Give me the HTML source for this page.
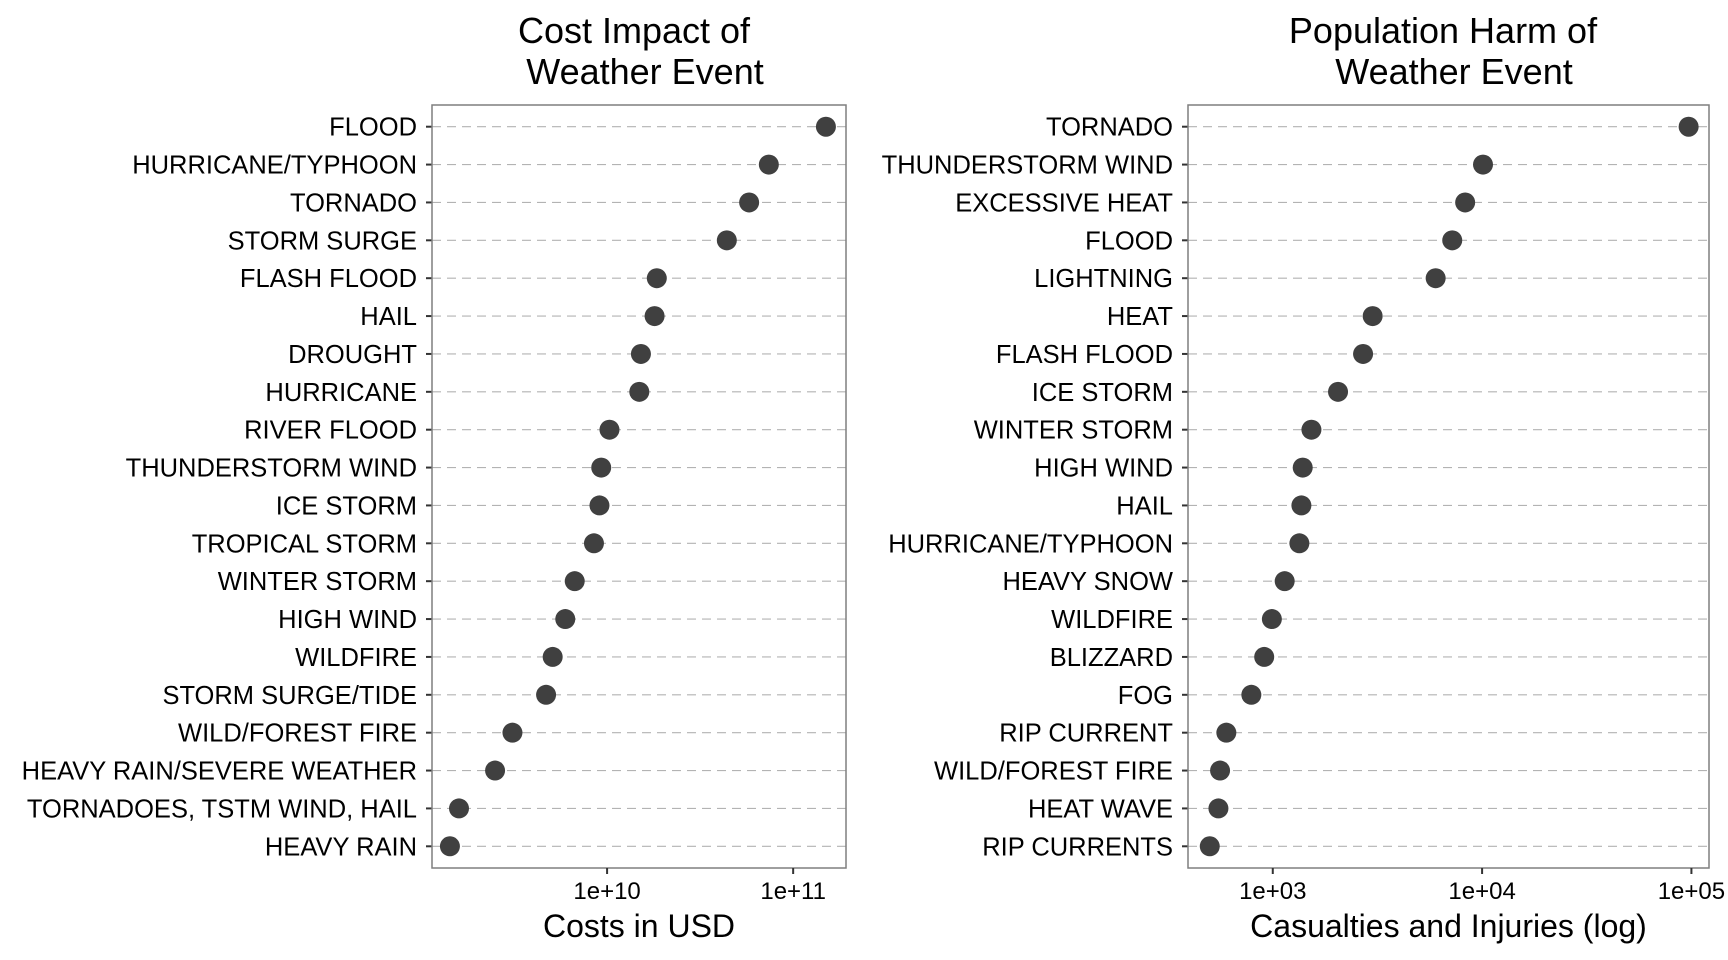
<!DOCTYPE html>
<html><head><meta charset="utf-8"><style>
html,body{margin:0;padding:0;background:#fff;}
svg{display:block;font-family:"Liberation Sans",Arial,sans-serif;}
</style></head><body>
<svg id="chart" width="1728" height="960" xmlns="http://www.w3.org/2000/svg"></svg>
<script>
const costCategories = ["FLOOD","HURRICANE/TYPHOON","TORNADO","STORM SURGE","FLASH FLOOD","HAIL","DROUGHT","HURRICANE","RIVER FLOOD","THUNDERSTORM WIND","ICE STORM","TROPICAL STORM","WINTER STORM","HIGH WIND","WILDFIRE","STORM SURGE/TIDE","WILD/FOREST FIRE","HEAVY RAIN/SEVERE WEATHER","TORNADOES, TSTM WIND, HAIL","HEAVY RAIN"];
const costValues = [1.5e11,7.4e10,5.8e10,4.4e10,1.85e10,1.8e10,1.52e10,1.49e10,1.03e10,9.3e9,9.1e9,8.5e9,6.7e9,5.96e9,5.1e9,4.7e9,3.1e9,2.5e9,1.6e9,1.43e9];
const costTicks = [1e10,1e11];
const costTickLabels = ["1e+10","1e+11"];
const harmCategories = ["TORNADO","THUNDERSTORM WIND","EXCESSIVE HEAT","FLOOD","LIGHTNING","HEAT","FLASH FLOOD","ICE STORM","WINTER STORM","HIGH WIND","HAIL","HURRICANE/TYPHOON","HEAVY SNOW","WILDFIRE","BLIZZARD","FOG","RIP CURRENT","WILD/FOREST FIRE","HEAT WAVE","RIP CURRENTS"];
const harmValues = [96979,10100,8300,7200,6000,3000,2700,2050,1530,1390,1370,1340,1140,990,910,790,600,560,550,500];
const harmTicks = [1e3,1e4,1e5];
const harmTickLabels = ["1e+03","1e+04","1e+05"];

const svg = document.getElementById('chart');
const NS = "http://www.w3.org/2000/svg";
function mk(tag, attrs, parent){const e=document.createElementNS(NS,tag);for(const k in attrs)e.setAttribute(k,attrs[k]);(parent||svg).appendChild(e);return e;}

function panel(cfg){
  const g = mk('g',{});
  
  
  const {x0,x1,y0,y1,lmin,lmax} = cfg;
  const xs = v => x0 + (Math.log10(v)-lmin)/(lmax-lmin)*(x1-x0);
  const n = cfg.cats.length;
  const yTop = 126.7, step = (846.3-126.7)/(n-1);
  const ys = i => yTop + i*step;
  cfg.title.forEach((t,k)=>{
    const tt = mk('text',{x:cfg.tx[k],y:43+k*41,'text-anchor':'middle','font-size':36,fill:'#000'},g);
    tt.textContent=t;
    
    
  });
  cfg.cats.forEach((c,i)=>{
    const y=ys(i);
    const gl = mk('line',{x1:x0,x2:x1,y1:y,y2:y,stroke:'#b3b3b3','stroke-width':1.2,'stroke-dasharray':'9,6'},g);
    
    
    mk('line',{x1:x0-6,x2:x0,y1:y,y2:y,stroke:'#333','stroke-width':2},g);
    const lt = mk('text',{x:x0-15,y:y+9,'text-anchor':'end','font-size':25.5,fill:'#000'},g);
    lt.textContent=c;
    
    
  });
  const b = mk('rect',{x:x0,y:y0,width:x1-x0,height:y1-y0,fill:'none',stroke:'#7f7f7f','stroke-width':1.5},g);
  
  
  cfg.ticks.forEach((t,i)=>{
    const x=xs(t);
    mk('line',{x1:x,x2:x,y1:y1,y2:y1+6,stroke:'#333','stroke-width':2},g);
    const tl = mk('text',{x:x,y:899,'text-anchor':'middle','font-size':24,fill:'#000'},g);
    tl.textContent=cfg.tickLabels[i];
    
    
  });
  const at = mk('text',{x:(x0+x1)/2,y:937,'text-anchor':'middle','font-size':32,fill:'#000'},g);
  at.textContent=cfg.xlabel;
  
  
  cfg.vals.forEach((v,i)=>{
    const p = mk('circle',{cx:xs(v),cy:ys(i),r:10,fill:'#404040'},g);
    
    
  });
}
panel({name:'cost-panel',x0:432,x1:846,y0:105,y1:868,lmin:9.059,lmax:11.284,cats:costCategories,vals:costValues,ticks:costTicks,tickLabels:costTickLabels,title:["Cost Impact of","Weather Event"],tx:[634,645],xlabel:"Costs in USD"});
panel({name:'harm-panel',x0:1188,x1:1709,y0:105,y1:868,lmin:2.595,lmax:5.084,cats:harmCategories,vals:harmValues,ticks:harmTicks,tickLabels:harmTickLabels,title:["Population Harm of","Weather Event"],tx:[1443,1454],xlabel:"Casualties and Injuries (log)"});
</script>
</body></html>
